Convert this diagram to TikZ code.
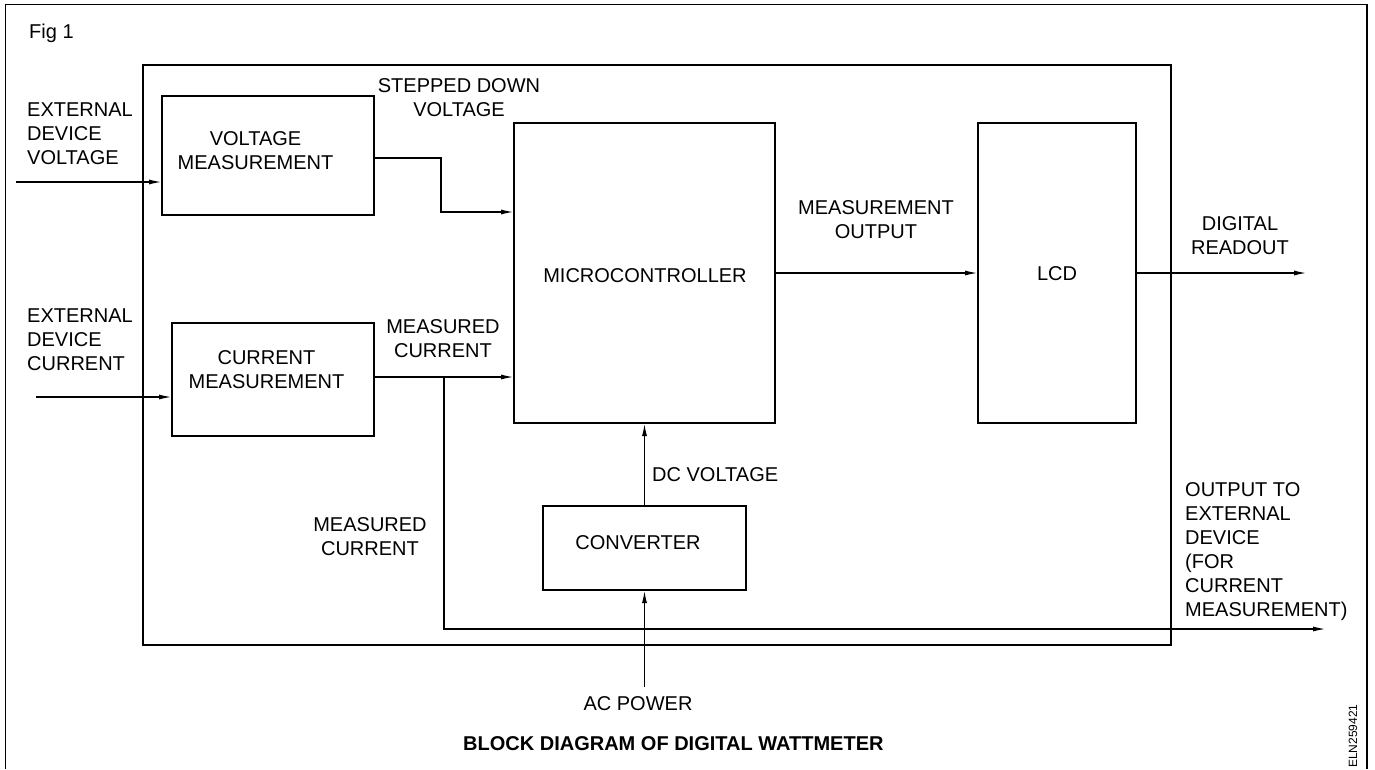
\documentclass[tikz,border=0pt]{standalone}
\usepackage{fontspec}
\setmainfont{Liberation Sans}
\usetikzlibrary{arrows.meta}
\begin{document}
\begin{tikzpicture}[x=1pt,y=-1pt,
  blk/.style={draw,line width=1.6pt,inner sep=0pt,outer sep=0pt},
  conn/.style={line width=1.5pt},
  arr/.style={conn,-{Latex[length=13pt,width=5pt]}},
  lbl/.style={inner sep=0pt,font=\fontsize{20}{24}\selectfont,align=center},
  lbll/.style={lbl,align=left},
]
\useasboundingbox (0,0) rectangle (1375,769);
\fill[white] (0,0) rectangle (1375,769);
% outer figure frame
\coordinate (fbl) at (5.5,769);
\coordinate (ftl) at (5.5,4.5);
\coordinate (ftr) at (1367,4.5);
\coordinate (fbr) at (1367,769);
\draw[conn] (fbl) -- (ftl) -- (ftr) -- (fbr);
\node[lbl,anchor=west] (fig) at (29,33) {Fig 1};

% system enclosure
\node[blk,minimum width=1028pt,minimum height=580pt] (system) at (657,355) {};

% blocks
\node[blk,minimum width=212pt,minimum height=119pt] (vbox) at (268,155.5) {};
\node[blk,minimum width=202pt,minimum height=113pt] (cbox) at (273,379.5) {};
\node[blk,minimum width=261pt,minimum height=300pt] (micro) at (644.5,273) {};
\node[blk,minimum width=158pt,minimum height=300pt] (lcd) at (1057,273) {};
\node[blk,minimum width=203pt,minimum height=84pt] (conv) at (644.5,548) {};

% block texts
\node[lbl] (vtext) at (255.5,151) {VOLTAGE\\MEASUREMENT};
\node[lbl] (ctext) at (266.5,370) {CURRENT\\MEASUREMENT};
\node[lbl] (mtext) at (645,276) {MICROCONTROLLER};
\node[lbl] (ltext) at (1057,274) {LCD};
\node[lbl] (cvtext) at (638,543) {CONVERTER};

% free ends
\coordinate (evin) at (16,182);
\coordinate (ecin) at (36,397);
\coordinate (vbend) at (441,158);
\coordinate (junc) at (444,377);
\coordinate (extout) at (1326,629);
\coordinate (readout) at (1307,273);
\coordinate (acin) at (644.5,687);

% connectors
\draw[arr] (evin) -- (evin -| vbox.west);
\draw[arr] (ecin) -- (ecin -| cbox.west);
\draw[arr] (vbend -| vbox.east) -- (vbend) |- (micro.west |- 0,212);
\draw[arr] (junc -| cbox.east) -- (junc -| micro.west);
\draw[arr] (junc) |- (extout);
\draw[arr] (micro.east) -- (lcd.west);
\draw[arr] (lcd.east) -- (readout);
\draw[arr] (conv.north) -- (micro.south);
\draw[arr] (acin) -- (conv.south);

% labels
\node[lbll,anchor=west] (evlab) at (27,134) {EXTERNAL\\DEVICE\\VOLTAGE};
\node[lbll,anchor=west] (eclab) at (27,340) {EXTERNAL\\DEVICE\\CURRENT};
\node[lbl] (sdlab) at (459,97.5) {STEPPED DOWN\\VOLTAGE};
\node[lbl] (mc1lab) at (443,339) {MEASURED\\CURRENT};
\node[lbl] (mc2lab) at (370,537) {MEASURED\\CURRENT};
\node[lbl] (molab) at (876,220) {MEASUREMENT\\OUTPUT};
\node[lbl] (drlab) at (1240,236) {DIGITAL\\READOUT};
\node[lbl,anchor=west] (dclab) at (652,475) {DC VOLTAGE};
\node[lbll,anchor=north west] (outlab) at (1185,482) {OUTPUT TO\\EXTERNAL\\DEVICE\\(FOR\\CURRENT\\MEASUREMENT)};
\node[lbl] (aclab) at (638,704) {AC POWER};
\node[lbl,anchor=west,font=\fontsize{20}{24}\selectfont\bfseries] (title) at (463,744) {BLOCK DIAGRAM OF DIGITAL WATTMETER};
\node[inner sep=0pt,rotate=90,font=\fontsize{12}{14}\selectfont] (code) at (1353,736) {ELN259421};
\end{tikzpicture}
\end{document}
